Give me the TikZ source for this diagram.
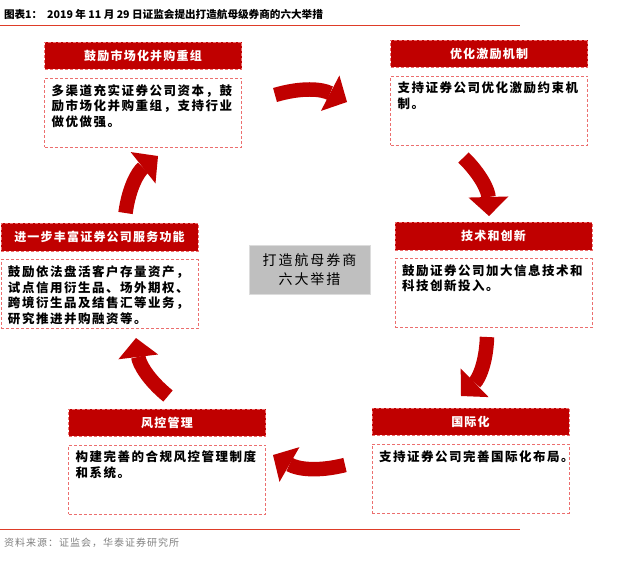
\documentclass[tikz,border=0pt]{standalone}
\usepackage{fontspec}
\setmainfont{Noto Sans CJK SC}
\usetikzlibrary{arrows.meta, positioning}
\definecolor{hdrred}{RGB}{192,0,0}
\definecolor{dashred}{RGB}{236,110,110}
\definecolor{linered}{RGB}{222,60,40}
\definecolor{coregray}{RGB}{191,191,191}
\definecolor{coreedge}{RGB}{220,220,220}
\newcommand{\bodytxt}[1]{\parbox[t][57pt][t]{183pt}{\fontsize{12.5pt}{15.5pt}\selectfont\bfseries\addfontfeatures{LetterSpace=12}#1}}

\begin{document}
\begin{tikzpicture}[x=1pt, y=-1pt,
                    hdr/.style={rectangle, fill=hdrred, draw=dashred, dash pattern=on 3pt off 2pt, minimum width=197pt, minimum height=27.5pt, inner sep=0pt, text=white, font=\fontsize{12pt}{14pt}\selectfont\bfseries\addfontfeatures{LetterSpace=10}},
                    txtbox/.style={rectangle, draw=dashred, dash pattern=on 3pt off 2pt, inner xsep=7pt, inner ysep=6pt, text=black},
                    bigarrow/.style={draw=hdrred, line width=14.5pt, -{Triangle[width=40pt, length=19pt, line width=0pt]}}]
                    \useasboundingbox (0,0) rectangle (620,574);

                    \node[anchor=west, font=\fontsize{10.6pt}{13pt}\selectfont\bfseries](title) at (0.5,14){图表1：\ \ 2019 年 11 月 29 日证监会提出打造航母级券商的六大举措};
                    \draw[linered, line width=1pt] (0,25) -- (520,25);

                    \node[hdr](hdrA) at (143,55.5){鼓励市场化并购重组};
                    \node[txtbox, below=8.5pt of hdrA](txtA){\bodytxt{多渠道充实证券公司资本，鼓\\励市场化并购重组，支持行业\\做优做强。}};

                    \node[hdr](hdrB) at (489,53.5){优化激励机制};
                    \node[txtbox, below=8.5pt of hdrB](txtB){\bodytxt{支持证券公司优化激励约束机\\制。}};

                    \node[hdr](hdrC) at (99.5,237){进一步丰富证券公司服务功能};
                    \node[txtbox, below=8.5pt of hdrC](txtC){\bodytxt{鼓励依法盘活客户存量资产，\\试点信用衍生品、场外期权、\\跨境衍生品及结售汇等业务，\\研究推进并购融资等。}};

                    \node[hdr](hdrD) at (493.5,236){技术和创新};
                    \node[txtbox, below=8.5pt of hdrD](txtD){\bodytxt{鼓励证券公司加大信息技术和\\科技创新投入。}};

                    \node[hdr](hdrE) at (167,422.5){风控管理};
                    \node[txtbox, below=8.5pt of hdrE](txtE){\bodytxt{构建完善的合规风控管理制度\\和系统。}};

                    \node[hdr](hdrF) at (470.5,421.5){国际化};
                    \node[txtbox, below=8.5pt of hdrF](txtF){\bodytxt{支持证券公司完善国际化布局。}};

                    \node[rectangle, fill=coregray, draw=coreedge, line width=1pt, minimum width=121pt, minimum height=49pt, align=center, font=\fontsize{14pt}{19pt}\selectfont\addfontfeatures{LetterSpace=14}](core) at (309.5,269.5){打造航母券商\\六大举措};

                    \coordinate(a1s) at (275,95);
                    \coordinate(a1e) at (347,102);
                    \coordinate(a2s) at (463.5,157.5);
                    \coordinate(a2e) at (489,216);
                    \coordinate(a3s) at (487,337);
                    \coordinate(a3e) at (461,396);
                    \coordinate(a4s) at (345,465);
                    \coordinate(a4e) at (273,455);
                    \coordinate(a5s) at (168,396);
                    \coordinate(a5e) at (136,338);
                    \coordinate(a6s) at (125.5,213);
                    \coordinate(a6e) at (158,156);
                    \draw[bigarrow] (a1s) to[bend left=22] (a1e);
                    \draw[bigarrow] (a2s) to[bend left=22] (a2e);
                    \draw[bigarrow] (a3s) to[bend left=22] (a3e);
                    \draw[bigarrow] (a4s) to[bend left=22] (a4e);
                    \draw[bigarrow] (a5s) to[bend left=22] (a5e);
                    \draw[bigarrow] (a6s) to[bend left=22] (a6e);

                    \draw[linered, line width=1pt] (0,529) -- (520,529);
                    \node[anchor=west, text=gray, font=\fontsize{10pt}{12pt}\selectfont\addfontfeatures{LetterSpace=10}](source) at (0.5,543){资料来源：证监会，华泰证券研究所};
                \end{tikzpicture}
\end{document}
